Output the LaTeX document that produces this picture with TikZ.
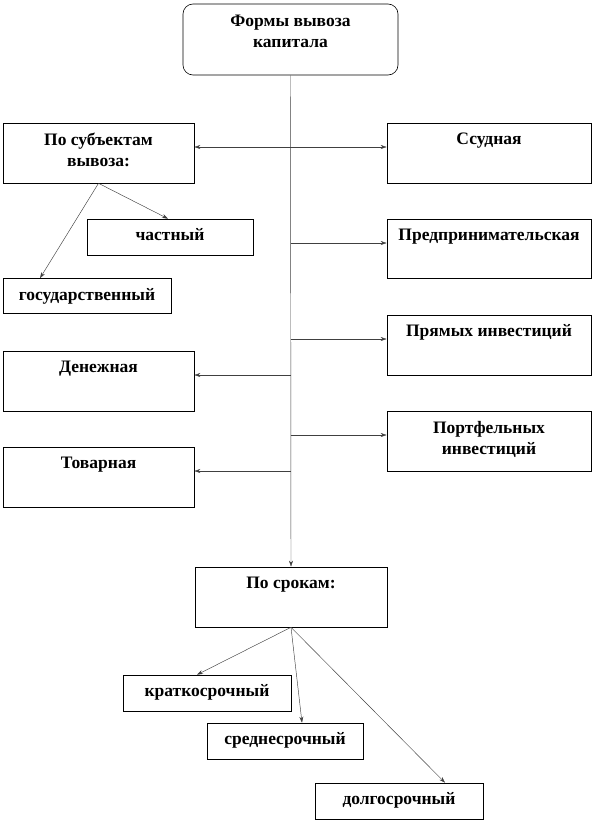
\documentclass[tikz,border=0pt]{standalone}
\usepackage{fontspec}
\setmainfont{Liberation Serif}
\usetikzlibrary{arrows.meta,calc}

\begin{document}
\begin{tikzpicture}[x=1pt,y=-1pt,>={Stealth[length=6pt,width=4pt]},font=\fontsize{17.5}{21}\selectfont\bfseries]
\tikzstyle{b}=[draw,line width=0.6pt,inner sep=0pt]
\tikzstyle{t}=[anchor=north,align=center,inner sep=0pt,yshift=-10pt]
\tikzstyle{c}=[draw=black!75,line width=0.45pt]
\useasboundingbox (0,0) rectangle (594,822);
% top box
\node[b,rounded corners=10pt,minimum width=215pt,minimum height=71pt] (top) at (290.5,39.5) {};
\node[t,yshift=-1pt] (topt) at (top.north) {Формы вывоза\\капитала};
% side boxes
\foreach \n/\x/\y/\w/\h/\s in {sub/98.5/153/191/60/{По субъектам\\вывоза:},
  ssud/489/153/204/60/{Ссудная},
  chast/170/237/166/36/{частный},
  pred/489/248.5/204/59/{Предпринимательская},
  gos/87/296/168/35/{государственный},
  pryam/489/345/204/60/{Прямых инвестиций},
  den/98.5/381/191/60/{Денежная},
  port/489/441/204/60/{Портфельных\\инвестиций},
  tov/98.5/477/191/60/{Товарная},
  srok/291/597/192/60/{По срокам:},
  krat/207/693/168/36/{краткосрочный},
  sred/285/741/156/36/{среднесрочный},
  dolg/399/801/168/36/{долгосрочный}}
  {\node[b,minimum width=\w pt,minimum height=\h pt] (\n) at (\x,\y) {};
   \node[t] (\n t) at (\n.north) {\s};}
% trunk
\draw[c,->] (top.south) -- (srok.north);
\coordinate (j1) at (top.south |- 0,147);
\draw[c,<->] (j1 -| sub.east) -- (j1 -| ssud.west);
\foreach \n/\y in {pred/243,pryam/339,port/435}
  {\coordinate (j\n) at (top.south |- 0,\y);
   \draw[c,->] (j\n) -- (j\n -| \n.west);}
\foreach \n/\y in {den/375,tov/471}
  {\coordinate (j\n) at (top.south |- 0,\y);
   \draw[c,->] (j\n) -- (j\n -| \n.east);}
% subjects
\draw[c,->] (sub.south) -- ($(chast.north)+(-2,0)$);
\draw[c,->] (sub.south) -- ($(gos.north)+(-47,0)$);
% terms
\draw[c,->] (srok.south) -- ($(krat.north)+(-10,0)$);
\draw[c,->] (srok.south) -- ($(sred.north)+(17,0)$);
\draw[c,->] (srok.south) -- ($(dolg.north)+(46,0)$);
\end{tikzpicture}
\end{document}
